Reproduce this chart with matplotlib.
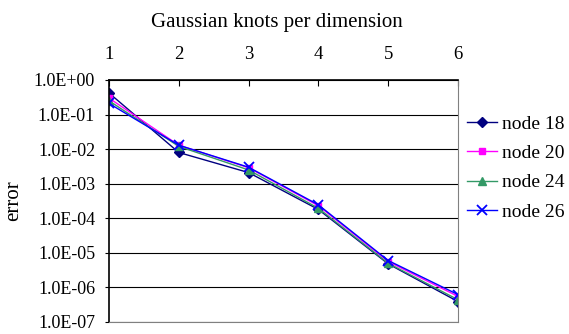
import numpy as np
import matplotlib
matplotlib.use("Agg")
import matplotlib.pyplot as plt
from matplotlib.ticker import FixedLocator, FuncFormatter, NullLocator

plt.rcParams['font.family'] = ['Liberation Serif', 'DejaVu Serif']

knots = [1, 2, 3, 4, 5, 6]
node18 = [0.42, 0.008, 0.0021, 1.8e-4, 4.8e-6, 3.9e-7]
node20 = [0.30, 0.013, 0.0029, 2.3e-4, 5.6e-6, 5.5e-7]
node24 = [0.25, 0.012, 0.0025, 1.95e-4, 5.0e-6, 4.4e-7]
node26 = [0.21, 0.013, 0.0030, 2.45e-4, 6.0e-6, 6.2e-7]
series_names = ["node 18", "node 20", "node 24", "node 26"]
yticks = [1e0, 1e-1, 1e-2, 1e-3, 1e-4, 1e-5, 1e-6, 1e-7]

fig = plt.figure(figsize=(5.69, 3.34), dpi=100)
ax = fig.add_axes([109/569, 1 - 322/334, (458 - 109)/569, (322 - 80)/334])

styles = [
    dict(color="#000080", marker="D", markersize=5),
    dict(color="#FF00FF", marker="s", markersize=5),
    dict(color="#339966", marker="^", markersize=6),
    dict(color="#0000FF", marker="x", markersize=7, markeredgewidth=1.3),
]
for vals, name, st in zip([node18, node20, node24, node26], series_names, styles):
    ax.plot(knots, vals, label=name, linewidth=1.0, **st)

ax.set_yscale("log")
ax.set_ylim(1e-7, 1e0)
ax.set_xlim(1, 6)
ax.yaxis.set_major_locator(FixedLocator(yticks))
ax.yaxis.set_minor_locator(NullLocator())
ax.yaxis.set_major_formatter(FuncFormatter(lambda v, p: "%.1E" % v))
ax.grid(axis="y", color="#000000", linewidth=0.8)

ax.xaxis.tick_top()
ax.xaxis.set_label_position("top")
ax.set_xticks(knots)
ax.tick_params(axis="x", direction="in", length=4, labelsize=13.5, pad=12, color="#000000")
ax.tick_params(axis="y", direction="out", length=3, labelsize=13, pad=7)
ax.set_xlabel("Gaussian knots per dimension", fontsize=15, labelpad=14)
ax.xaxis.label.set_x(0.482)
ax.set_ylabel("error", fontsize=15, labelpad=8)

for s in ["left", "top"]:
    ax.spines[s].set_color("#000000")
    ax.spines[s].set_linewidth(1.2)
ax.spines["right"].set_color("#808080")
ax.spines["bottom"].set_color("#808080")

leg = ax.legend(loc="center left", bbox_to_anchor=(467/569, 1 - 168/334),
                bbox_transform=fig.transFigure, frameon=False, borderpad=0,
                borderaxespad=0, fontsize=14, handlelength=1.55,
                labelspacing=0.6, handletextpad=0.26)

fig.savefig("out.png", dpi=100)
